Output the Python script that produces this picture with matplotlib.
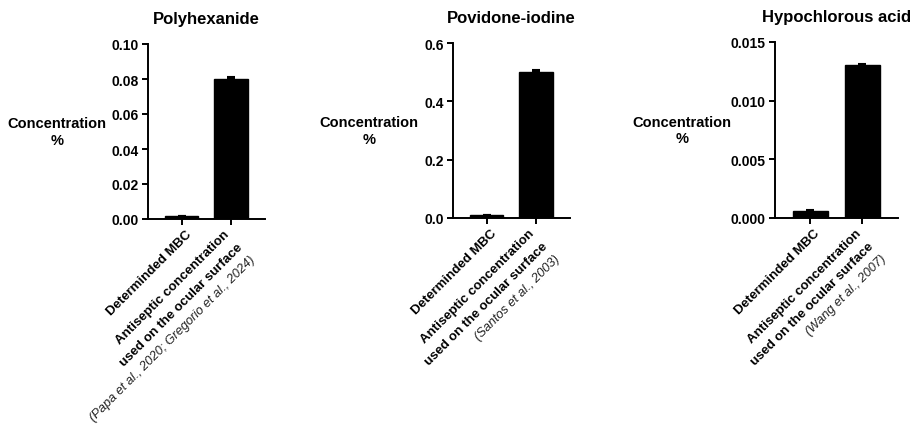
import matplotlib
matplotlib.use("Agg")
import matplotlib.pyplot as plt
import matplotlib.transforms as mtransforms

plt.rcParams['font.family'] = ['Liberation Sans', 'DejaVu Sans']

# ---- data ----
titles = ['Polyhexanide', 'Povidone-iodine', 'Hypochlorous acid']
categories = ['Determinded MBC', 'Antiseptic concentration\nused on the ocular surface']
citations = ['(Papa et al., 2020; Gregorio et al., 2024)',
             '(Santos et al., 2003)',
             '(Wang et al., 2007)']
polyhexanide_values = [0.0015, 0.080]
polyhexanide_errors = [0.0003, 0.0009]
povidone_values = [0.009, 0.500]
povidone_errors = [0.002, 0.006]
hocl_values = [0.0006, 0.0130]
hocl_errors = [0.0001, 0.0001]
yticks_poly = [0.00, 0.02, 0.04, 0.06, 0.08, 0.10]
yticks_pvp = [0.0, 0.2, 0.4, 0.6]
yticks_hocl = [0.000, 0.005, 0.010, 0.015]
ytick_fmt = ['{:.2f}', '{:.1f}', '{:.3f}']
ylabel = 'Concentration\n%'

values = [polyhexanide_values, povidone_values, hocl_values]
errors = [polyhexanide_errors, povidone_errors, hocl_errors]
yticks = [yticks_poly, yticks_pvp, yticks_hocl]

W, H = 924, 427
fig = plt.figure(figsize=(W / 100, H / 100), dpi=100)

rects_px = [(148, 45, 265, 220), (453, 44, 570, 219), (775, 43, 898, 219)]
ylabel_x_px = [57, 369, 682]

LINE = 18.0   # px, perpendicular line spacing of rotated labels
c45 = 0.7071

for i in range(3):
    l, t, r, b = rects_px[i]
    ax = fig.add_axes([l / W, 1 - b / H, (r - l) / W, (b - t) / H])
    x = list(range(len(categories)))
    ax.bar(x, values[i], width=0.68, color='black', edgecolor='black', zorder=2)
    ax.errorbar(x, values[i], yerr=[[0] * len(x), errors[i]], fmt='none',
                ecolor='black', elinewidth=1.5, capsize=3, capthick=1.5, zorder=3)
    ax.set_xlim(-0.68, 1.69)
    ax.set_ylim(yticks[i][0], yticks[i][-1])
    ax.set_yticks(yticks[i])
    ax.set_yticklabels([ytick_fmt[i].format(v) for v in yticks[i]],
                       fontsize=10, fontweight='bold')
    ax.set_xticks(x)
    ax.set_xticklabels([])
    for s in ['top', 'right']:
        ax.spines[s].set_visible(False)
    for s in ['left', 'bottom']:
        ax.spines[s].set_linewidth(1.4)
    ax.tick_params(axis='both', direction='out', length=4.5, width=1.4, pad=2)
    ax.set_title(titles[i], fontsize=12, fontweight='bold', pad=15)

    fig.text(ylabel_x_px[i] / W, 1 - ((t + b) / 2) / H, ylabel, ha='center',
             va='center', multialignment='center', fontsize=10.5, fontweight='bold')

    base = ax.get_xaxis_transform()
    for j, cat in enumerate(categories):
        lines = cat.split('\n')
        if j == 0:
            x0, y0 = 10.0, -15.0
        else:
            x0, y0 = -1.0, -15.0
        all_lines = [(ln, 'bold', 'normal') for ln in lines]
        if j == 1:
            all_lines.append((citations[i], 'normal', 'italic'))
        for k, (txt, fw, fs) in enumerate(all_lines):
            dx = x0 + k * LINE * c45
            dy = y0 - k * LINE * c45
            tr = base + mtransforms.ScaledTranslation(dx / 100, dy / 100, fig.dpi_scale_trans)
            ax.text(j, 0, txt, transform=tr, rotation=45, rotation_mode='anchor',
                    ha='right', va='baseline', fontsize=9.5 if fw == 'bold' else 9.2,
                    fontweight=fw, fontstyle=fs, color='black' if fw == 'bold' else '#222222')

fig.savefig('out.png', dpi=100)
